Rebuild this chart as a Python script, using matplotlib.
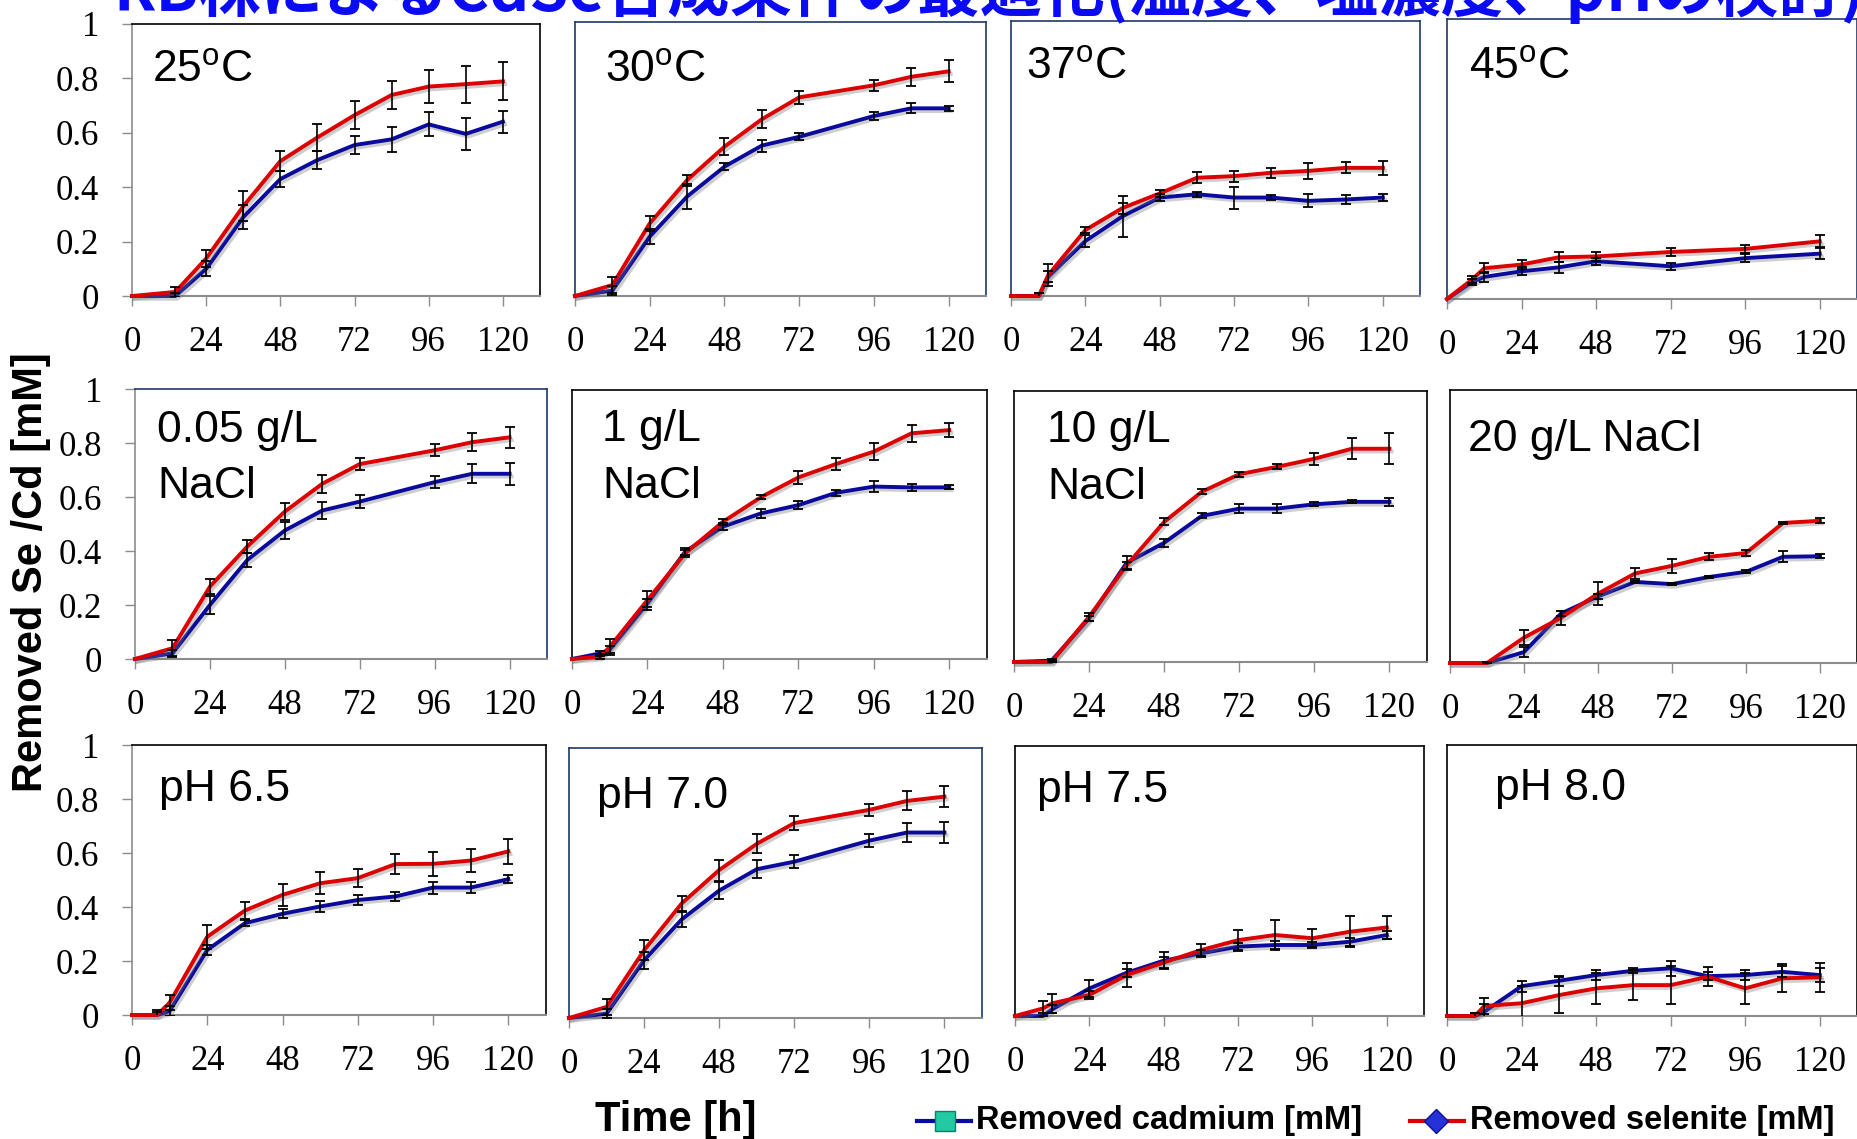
import matplotlib
matplotlib.use("Agg")
import matplotlib.pyplot as plt
import matplotlib.patheffects as pe
from matplotlib.lines import Line2D
import numpy as np

plt.rcParams['font.family'] = ['Liberation Sans', 'DejaVu Sans']
plt.rcParams['mathtext.fontset'] = 'custom'
plt.rcParams['mathtext.rm'] = 'Liberation Sans'

# ---- data: removed selenite (se) / cadmium (cd) in mM, with error bars ----
t_25 = [0, 14, 24, 36, 48, 60, 72, 84, 96, 108, 120]
se_25 = [0, 0.015, 0.138, 0.33, 0.496, 0.583, 0.665, 0.739, 0.77, 0.779, 0.789]
se_25_err = [0, 0.018, 0.03, 0.055, 0.038, 0.05, 0.052, 0.052, 0.062, 0.068, 0.07]
cd_25 = [0, 0, 0.10, 0.29, 0.43, 0.50, 0.555, 0.576, 0.631, 0.596, 0.641]
cd_25_err = [0, 0.01, 0.028, 0.045, 0.03, 0.033, 0.032, 0.045, 0.044, 0.058, 0.04]

t_30 = [0, 12, 24, 36, 48, 60, 72, 96, 108, 120]
se_30 = [0, 0.04, 0.265, 0.423, 0.545, 0.645, 0.725, 0.769, 0.80, 0.82]
se_30_err = [0, 0.03, 0.026, 0.02, 0.032, 0.033, 0.024, 0.021, 0.033, 0.04]
cd_30 = [0, 0.02, 0.217, 0.363, 0.472, 0.549, 0.581, 0.657, 0.685, 0.685]
cd_30_err = [0, 0.015, 0.027, 0.047, 0.013, 0.022, 0.013, 0.016, 0.018, 0.009]

t_37 = [0, 9, 12, 24, 36, 48, 60, 72, 84, 96, 108, 120]
se_37 = [0, 0, 0.076, 0.24, 0.32, 0.373, 0.43, 0.436, 0.448, 0.455, 0.466, 0.466]
se_37_err = [0, 0.01, 0.04, 0.012, 0.02, 0.012, 0.02, 0.02, 0.018, 0.03, 0.02, 0.025]
cd_37 = [0, 0, 0.07, 0.20, 0.29, 0.358, 0.37, 0.358, 0.358, 0.346, 0.351, 0.358]
cd_37_err = [0, 0.01, 0.02, 0.023, 0.075, 0.013, 0.01, 0.04, 0.01, 0.024, 0.015, 0.014]

t_45 = [0, 8, 12, 24, 36, 48, 72, 96, 120]
se_45 = [0, 0.069, 0.11, 0.123, 0.149, 0.152, 0.168, 0.179, 0.206]
se_45_err = [0, 0.012, 0.018, 0.015, 0.018, 0.015, 0.015, 0.015, 0.022]
cd_45 = [0, 0.06, 0.079, 0.099, 0.113, 0.135, 0.117, 0.146, 0.162]
cd_45_err = [0, 0.01, 0.018, 0.015, 0.019, 0.012, 0.012, 0.015, 0.02]

t_005 = [0, 12, 24, 36, 48, 60, 72, 96, 108, 120]
se_005 = [0, 0.04, 0.268, 0.417, 0.546, 0.649, 0.722, 0.773, 0.803, 0.821]
se_005_err = [0, 0.03, 0.028, 0.025, 0.032, 0.034, 0.023, 0.023, 0.034, 0.039]
cd_005 = [0, 0.021, 0.20, 0.367, 0.476, 0.55, 0.583, 0.655, 0.686, 0.686]
cd_005_err = [0, 0.012, 0.034, 0.026, 0.031, 0.033, 0.025, 0.023, 0.035, 0.041]

t_1 = [0, 9, 12, 24, 36, 48, 60, 72, 84, 96, 108, 120]
se_1 = [0, 0.009, 0.045, 0.219, 0.393, 0.51, 0.601, 0.675, 0.725, 0.771, 0.839, 0.851]
se_1_err = [0, 0.01, 0.03, 0.035, 0.012, 0.012, 0.008, 0.025, 0.024, 0.032, 0.032, 0.025]
cd_1 = [0, 0.021, 0.035, 0.207, 0.399, 0.492, 0.541, 0.572, 0.618, 0.641, 0.638, 0.638]
cd_1_err = [0, 0.01, 0.012, 0.015, 0.012, 0.012, 0.017, 0.016, 0.012, 0.02, 0.012, 0.007]

t_10 = [0, 12, 24, 36, 48, 60, 72, 84, 96, 108, 120]
se_10 = [0, 0, 0.167, 0.357, 0.517, 0.628, 0.693, 0.72, 0.75, 0.787, 0.787]
se_10_err = [0, 0.005, 0.015, 0.012, 0.013, 0.009, 0.009, 0.009, 0.022, 0.038, 0.058]
cd_10 = [0, 0.005, 0.161, 0.366, 0.44, 0.539, 0.566, 0.566, 0.582, 0.591, 0.591]
cd_10_err = [0, 0.005, 0.01, 0.025, 0.015, 0.009, 0.016, 0.018, 0.007, 0.006, 0.015]

t_20 = [0, 12, 24, 36, 48, 60, 72, 84, 96, 108, 120]
se_20 = [0, 0, 0.093, 0.166, 0.254, 0.328, 0.356, 0.389, 0.403, 0.513, 0.521]
se_20_err = [0, 0.005, 0.028, 0.025, 0.043, 0.02, 0.025, 0.013, 0.012, 0.005, 0.01]
cd_20 = [0, 0, 0.04, 0.181, 0.244, 0.297, 0.289, 0.315, 0.334, 0.389, 0.391]
cd_20_err = [0, 0.005, 0.017, 0.01, 0.01, 0.005, 0.005, 0.005, 0.005, 0.02, 0.008]

t_65 = [0, 8, 12, 24, 36, 48, 60, 72, 84, 96, 108, 120]
se_65 = [0, 0, 0.046, 0.29, 0.387, 0.445, 0.488, 0.507, 0.559, 0.56, 0.572, 0.606]
se_65_err = [0, 0.02, 0.028, 0.045, 0.03, 0.041, 0.04, 0.033, 0.038, 0.045, 0.042, 0.046]
cd_65 = [0, 0, 0.015, 0.241, 0.34, 0.375, 0.402, 0.426, 0.439, 0.472, 0.472, 0.503]
cd_65_err = [0, 0.01, 0.02, 0.018, 0.012, 0.017, 0.02, 0.017, 0.015, 0.022, 0.019, 0.015]

t_70 = [0, 12, 24, 36, 48, 60, 72, 96, 108, 120]
se_70 = [0, 0.041, 0.251, 0.424, 0.548, 0.645, 0.722, 0.771, 0.804, 0.82]
se_70_err = [0, 0.03, 0.037, 0.029, 0.039, 0.035, 0.025, 0.023, 0.035, 0.04]
cd_70 = [0, 0.016, 0.214, 0.365, 0.472, 0.551, 0.579, 0.657, 0.687, 0.687]
cd_70_err = [0, 0.017, 0.031, 0.028, 0.03, 0.034, 0.025, 0.023, 0.036, 0.04]

t_75 = [0, 9, 12, 24, 36, 48, 60, 72, 84, 96, 108, 120]
se_75 = [0, 0.028, 0.047, 0.078, 0.152, 0.198, 0.244, 0.281, 0.30, 0.288, 0.312, 0.328]
se_75_err = [0, 0.028, 0.035, 0.015, 0.045, 0.02, 0.022, 0.037, 0.054, 0.034, 0.057, 0.043]
cd_75 = [0, 0, 0.025, 0.102, 0.16, 0.205, 0.232, 0.257, 0.263, 0.263, 0.275, 0.30]
cd_75_err = [0, 0.01, 0.015, 0.03, 0.015, 0.032, 0.012, 0.015, 0.015, 0.012, 0.015, 0.015]

t_80 = [0, 9, 12, 24, 36, 48, 60, 72, 84, 96, 108, 120]
se_80 = [0, 0, 0.037, 0.047, 0.077, 0.102, 0.114, 0.114, 0.145, 0.102, 0.139, 0.143]
se_80_err = [0, 0.01, 0.03, 0.065, 0.067, 0.056, 0.055, 0.07, 0.035, 0.058, 0.052, 0.053]
cd_80 = [0, 0, 0.016, 0.11, 0.13, 0.151, 0.167, 0.176, 0.147, 0.151, 0.163, 0.151]
cd_80_err = [0, 0.01, 0.028, 0.02, 0.018, 0.02, 0.01, 0.028, 0.015, 0.018, 0.02, 0.025]

x_ticks = [0, 24, 48, 72, 96, 120]
y_ticks = [0, 0.2, 0.4, 0.6, 0.8, 1]
y_tick_labels = ['0', '0.2', '0.4', '0.6', '0.8', '1']

title = 'RB株によるCdSe合成条件の最適化(温度、塩濃度、pHの検討)'

RED = '#DC0000'
NAVY = '#0A0A9C'
FRAME_NAVY = '#1F3868'
GREY = '#8C8C8C'

W, H = 1858, 1139
fig = plt.figure(figsize=(W / 100, H / 100), dpi=100)


def add_panel(left, top, right, bottom):
    return fig.add_axes([left / W, 1 - bottom / H, (right - left) / W, (bottom - top) / H])


def fig_text(x, y, s, **kw):
    return fig.text(x / W, 1 - y / H, s, **kw)


# (axes box in px, frame colour, label lines with baseline, label x, data)
panels = [
    ((132, 24, 540, 296), 'black', [('25$^{\\rm o}$C', 82)], 152, (t_25, se_25, se_25_err, cd_25, cd_25_err)),
    ((575, 22, 986, 296), FRAME_NAVY, [('30$^{\\rm o}$C', 82)], 605, (t_30, se_30, se_30_err, cd_30, cd_30_err)),
    ((1011, 21, 1420, 296), FRAME_NAVY, [('37$^{\\rm o}$C', 79)], 1026, (t_37, se_37, se_37_err, cd_37, cd_37_err)),
    ((1447, 19, 1857, 299), FRAME_NAVY, [('45$^{\\rm o}$C', 79)], 1469, (t_45, se_45, se_45_err, cd_45, cd_45_err)),
    ((135, 389, 547, 659), FRAME_NAVY, [('0.05 g/L', 442), ('NaCl', 498)], 157, (t_005, se_005, se_005_err, cd_005, cd_005_err)),
    ((572, 390, 987, 659), 'black', [('1 g/L', 441), ('NaCl', 498)], 602, (t_1, se_1, se_1_err, cd_1, cd_1_err)),
    ((1014, 391, 1427, 662), 'black', [('10 g/L', 442), ('NaCl', 499)], 1047, (t_10, se_10, se_10_err, cd_10, cd_10_err)),
    ((1450, 390, 1857, 663), 'black', [('20 g/L NaCl', 451)], 1468, (t_20, se_20, se_20_err, cd_20, cd_20_err)),
    ((132, 745, 546, 1015), 'black', [('pH 6.5', 801)], 159, (t_65, se_65, se_65_err, cd_65, cd_65_err)),
    ((569, 748, 982, 1018), FRAME_NAVY, [('pH 7.0', 808)], 597, (t_70, se_70, se_70_err, cd_70, cd_70_err)),
    ((1015, 746, 1424, 1016), 'black', [('pH 7.5', 802)], 1037, (t_75, se_75, se_75_err, cd_75, cd_75_err)),
    ((1447, 745, 1857, 1016), 'black', [('pH 8.0', 800)], 1495, (t_80, se_80, se_80_err, cd_80, cd_80_err)),
]

shadow = [pe.SimpleLineShadow(offset=(1.5, -2.0), shadow_color='0.45', alpha=0.35), pe.Normal()]

for i, (box, frame, label_lines, label_x, data) in enumerate(panels):
    t, se, se_err, cd, cd_err = data
    ax = add_panel(*box)
    ax.set_xlim(0, 132)
    ax.set_ylim(0, 1)
    first_col = (i % 4 == 0)

    ax.plot(t, cd, color=NAVY, lw=2.8, solid_joinstyle='round', clip_on=False,
            path_effects=shadow, zorder=3)
    ax.plot(t, se, color=RED, lw=2.8, solid_joinstyle='round', clip_on=False,
            path_effects=shadow, zorder=4)

    for vals, errs in ((cd, cd_err), (se, se_err)):
        tt = np.array(t)
        vv = np.array(vals)
        ee = np.array(errs)
        keep = ee > 0
        ax.errorbar(tt[keep], vv[keep], yerr=ee[keep], fmt='none', ecolor='black',
                    elinewidth=1.2, capsize=3.3, capthick=1.3, zorder=5)

    for side in ('top', 'right', 'left'):
        ax.spines[side].set_color(frame)
        ax.spines[side].set_linewidth(1.2)
    ax.spines['bottom'].set_color(GREY)
    ax.spines['bottom'].set_linewidth(1.5)
    if first_col:
        ax.spines['left'].set_color(GREY)

    ax.set_xticks(x_ticks)
    ax.set_xticklabels([str(v) for v in x_ticks], fontfamily='Liberation Serif', fontsize=25)
    ax.tick_params(axis='x', direction='out', length=7.5, width=1.0, color=GREY, pad=14)
    if first_col:
        ax.set_yticks(y_ticks)
        ax.set_yticklabels(y_tick_labels, fontfamily='Liberation Serif', fontsize=25)
        ax.tick_params(axis='y', direction='out', length=7.5, width=1.0, color=GREY, pad=16)
    else:
        ax.set_yticks([])

    for text, baseline in label_lines:
        fig_text(label_x, baseline, text, fontsize=32, va='baseline', ha='left')

# axis titles
fig_text(31, 572, 'Removed Se /Cd [mM]', rotation=90, fontsize=30, fontweight='bold',
         ha='center', va='center')
fig_text(676, 1120, 'Time [h]', fontsize=30, fontweight='bold', ha='center', va='center')

# title, partly cut by the top edge
fig_text(113, 11, title, fontsize=45, fontweight='bold', color='#0A0AF5',
         family=['Noto Sans CJK JP', 'DejaVu Sans'], ha='left', va='baseline')

# legend drawn by hand along the bottom
leg_y = 1121
for x1, x2, mx, color, marker, mface, medge, msize, label, tx in (
        (917, 971, 945, NAVY, 's', '#22C9A2', '#0E7F62', 14, 'Removed cadmium [mM]', 976),
        (1410, 1464, 1436, RED, 'D', '#2432D8', '#10108A', 12, 'Removed selenite [mM]', 1470)):
    fig.add_artist(Line2D([x1 / W, x2 / W], [1 - leg_y / H] * 2, transform=fig.transFigure,
                          color=color, lw=3))
    fig.add_artist(Line2D([mx / W], [1 - leg_y / H], transform=fig.transFigure, marker=marker,
                          markersize=msize, markerfacecolor=mface, markeredgecolor=medge,
                          markeredgewidth=1.0, lw=0))
    fig_text(tx, leg_y, label, fontsize=23.5, fontweight='bold', ha='left', va='center')

fig.savefig('out.png', dpi=100)
